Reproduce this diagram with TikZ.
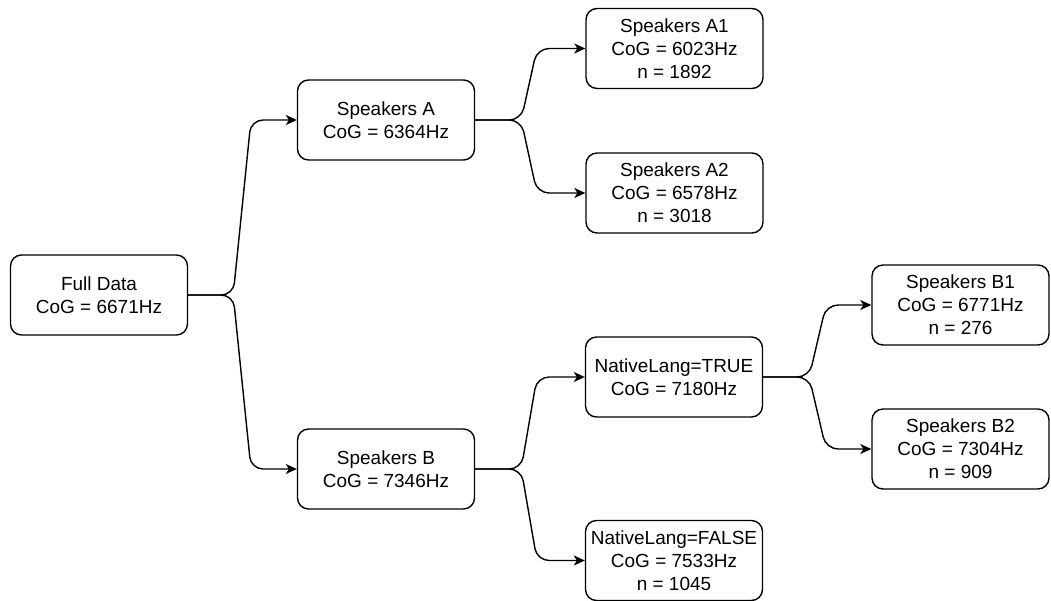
\documentclass[tikz,border=0pt]{standalone}
\usepackage{fontspec}
\setmainfont{Liberation Sans}
\usetikzlibrary{arrows.meta}
\begin{document}
\begin{tikzpicture}[x=0.02cm,y=-0.02cm,
  box/.style={draw, line width=0.8pt, rounded corners=2.2mm, minimum width=3.54cm, minimum height=1.6cm,
    align=center, inner xsep=1.5pt, inner ysep=0pt, font=\fontsize{10.8}{13}\selectfont},
  conn/.style={line width=0.8pt, rounded corners=2.4mm, -{Stealth[length=2.2mm,width=2mm,inset=0.6mm]}}]
\useasboundingbox (0,0) rectangle (1051,601);
\node[box] (full) at (99,295) {Full Data\\CoG = 6671Hz};
\node[box] (A) at (386,120) {Speakers A\\CoG = 6364Hz};
\node[box] (B) at (386,469) {Speakers B\\CoG = 7346Hz};
\node[box] (A1) at (674.5,48.5) {Speakers A1\\CoG = 6023Hz\\n = 1892};
\node[box] (A2) at (674.5,193) {Speakers A2\\CoG = 6578Hz\\n = 3018};
\node[box] (T) at (674,377) {NativeLang=TRUE\\CoG = 7180Hz};
\node[box] (F) at (674,560.5) {NativeLang=FALSE\\CoG = 7533Hz\\n = 1045};
\node[box] (B1) at (960.5,305) {Speakers B1\\CoG = 6771Hz\\n = 276};
\node[box] (B2) at (960.5,449) {Speakers B2\\CoG = 7304Hz\\n = 909};
\draw[conn] (full.east) -- ++(45,0) -- (251,120) -- (A.west);
\draw[conn] (full.east) -- ++(45,0) -- (251,469) -- (B.west);
\draw[conn] (A.east) -- ++(46,0) -- (537,48.5) -- (A1.west);
\draw[conn] (A.east) -- ++(46,0) -- (537,193) -- (A2.west);
\draw[conn] (B.east) -- ++(46,0) -- (537,377) -- (T.west);
\draw[conn] (B.east) -- ++(46,0) -- (537,560.5) -- (F.west);
\draw[conn] (T.east) -- ++(46,0) -- (826,305) -- (B1.west);
\draw[conn] (T.east) -- ++(46,0) -- (826,449) -- (B2.west);
\end{tikzpicture}
\end{document}
